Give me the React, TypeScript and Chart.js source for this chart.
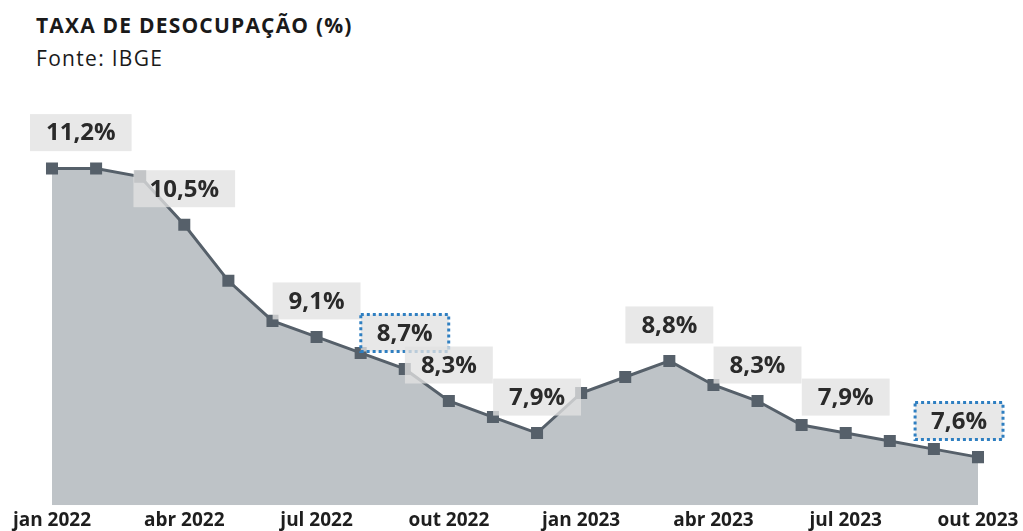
import React, { useEffect, useRef } from "react";
import { Chart, registerables } from "chart.js";

Chart.register(...registerables);

const months = [
  "jan 2022", "fev 2022", "mar 2022", "abr 2022", "mai 2022", "jun 2022",
  "jul 2022", "ago 2022", "set 2022", "out 2022", "nov 2022", "dez 2022",
  "jan 2023", "fev 2023", "mar 2023", "abr 2023", "mai 2023", "jun 2023",
  "jul 2023", "ago 2023", "set 2023", "out 2023",
];
const rates = [
  11.2, 11.2, 11.1, 10.5, 9.8, 9.3, 9.1, 8.9, 8.7, 8.3, 8.1, 7.9,
  8.4, 8.6, 8.8, 8.5, 8.3, 8.0, 7.9, 7.8, 7.7, 7.6,
];
const tickMonths = ["jan 2022", "abr 2022", "jul 2022", "out 2022", "jan 2023", "abr 2023", "jul 2023", "out 2023"];
const labeledIdx = [0, 3, 6, 8, 9, 11, 14, 16, 18, 21];
const highlightedIdx = [8, 21];

const FONT = "'Open Sans', 'DejaVu Sans', sans-serif";

const labelPlugin = {
  id: "valueLabels",
  afterDatasetsDraw(chart: any) {
    const ctx = chart.ctx;
    const meta = chart.getDatasetMeta(0);
    const area = chart.chartArea;
    ctx.save();
    ctx.font = `bold 24px ${FONT}`;
    ctx.textAlign = "center";
    ctx.textBaseline = "middle";
    for (const i of labeledIdx) {
      const pt = meta.data[i];
      const text = rates[i].toFixed(1).replace(".", ",") + "%";
      const tw = ctx.measureText(text).width;
      const w = tw + 32;
      const h = 37;
      let cx = pt.x;
      const cy = pt.y - 36;
      const minL = area.left - 22;
      const maxR = area.right + 25;
      if (cx - w / 2 < minL) cx = minL + w / 2;
      if (cx + w / 2 > maxR) cx = maxR - w / 2;
      ctx.fillStyle = "rgba(226,226,226,0.78)";
      ctx.fillRect(cx - w / 2, cy - h / 2, w, h);
      if (highlightedIdx.includes(i)) {
        ctx.strokeStyle = "#2f7fc1";
        ctx.lineWidth = 3;
        ctx.setLineDash([3, 3]);
        ctx.strokeRect(cx - w / 2, cy - h / 2, w, h);
        ctx.setLineDash([]);
      }
      ctx.fillStyle = "#2a2a2a";
      ctx.fillText(text, cx, cy + 1);
    }
    ctx.restore();
  },
};

export default function App() {
  const ref = useRef<HTMLCanvasElement>(null);
  useEffect(() => {
    document.body.style.margin = "0";
    const chart = new Chart(ref.current!, {
      type: "line",
      data: {
        labels: months,
        datasets: [
          {
            data: rates,
            borderColor: "#56606a",
            borderWidth: 3,
            backgroundColor: "#bec3c7",
            fill: "start",
            tension: 0,
            pointStyle: "rect",
            pointRadius: 8.5,
            pointBackgroundColor: "#56606a",
            pointBorderColor: "#56606a",
            pointBorderWidth: 0,
          },
        ],
      },
      options: {
        animation: false,
        responsive: false,
        maintainAspectRatio: false,
        layout: { padding: { left: 52, right: 45, top: 104.5, bottom: -5 } },
        plugins: {
          legend: { display: false },
          tooltip: { enabled: false },
          title: { display: false },
        },
        scales: {
          x: {
            offset: false,
            grid: { display: false, drawTicks: false },
            border: { display: false },
            ticks: {
              autoSkip: false,
              maxRotation: 0,
              padding: 4,
              color: "#1e1e1e",
              font: { family: FONT, size: 19, weight: "bold" },
              callback: (_v: any, i: number) => (tickMonths.includes(months[i]) ? months[i] : ""),
            },
          },
          y: {
            display: false,
            min: 7,
            max: 12,
          },
        },
      },
      plugins: [labelPlugin],
    });
    return () => chart.destroy();
  }, []);

  return (
    <div style={{ position: "relative", width: 1023, height: 531, background: "#fff", fontFamily: FONT }}>
      <div style={{ position: "absolute", left: 36, top: 12, fontSize: 21, fontWeight: 700, color: "#1a1a1a", lineHeight: "26px", letterSpacing: "1.2px", whiteSpace: "nowrap" }}>
        TAXA DE DESOCUPAÇÃO (%)
      </div>
      <div style={{ position: "absolute", left: 36, top: 45, fontSize: 21, fontWeight: 400, color: "#1a1a1a", lineHeight: "26px", letterSpacing: "1.3px", whiteSpace: "nowrap" }}>
        Fonte: IBGE
      </div>
      <canvas ref={ref} width={1023} height={531} style={{ position: "absolute", left: 0, top: 0 }} />
    </div>
  );
}
